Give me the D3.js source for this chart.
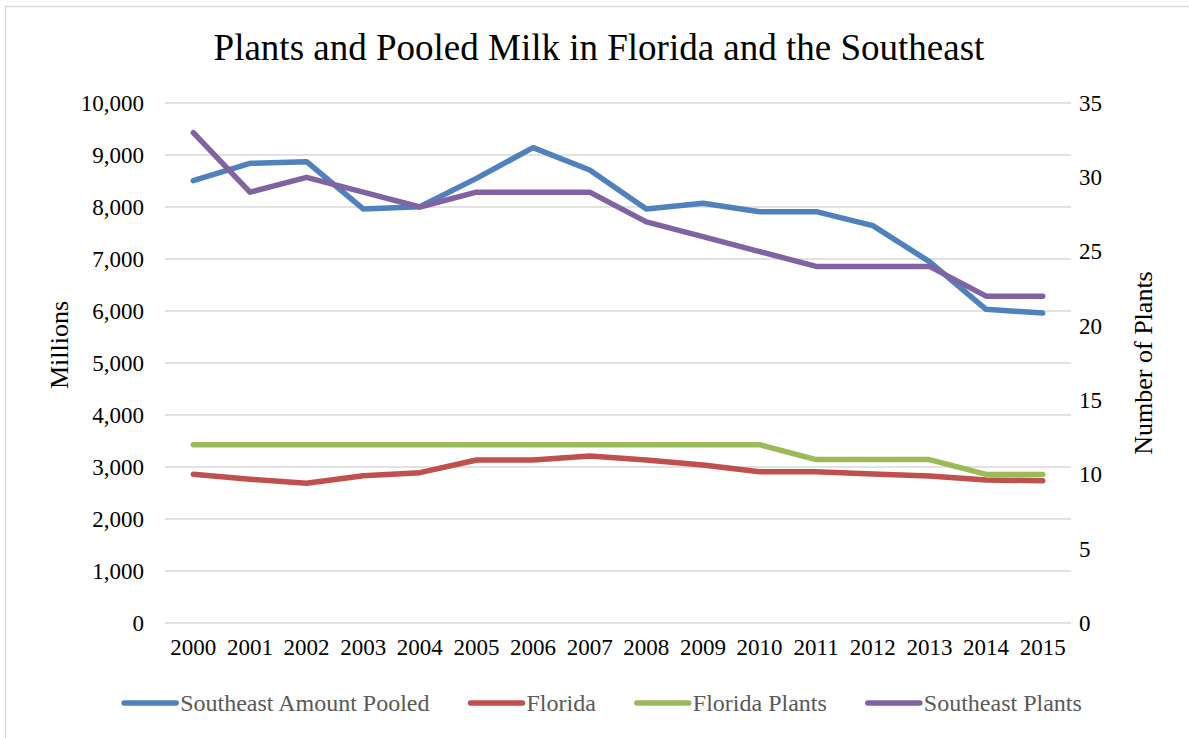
<!DOCTYPE html>
<html>
<head>
<meta charset="utf-8">
<script src="https://cdn.jsdelivr.net/npm/d3@7"></script>
<style>
  body { margin: 0; background: #fff; }
  svg { display: block; }
  svg text { font-family: "Liberation Serif", "DejaVu Serif", serif !important; }
</style>
</head>
<body>
<svg id="chart" width="1189" height="738"></svg>
<script>
const years = ["2000","2001","2002","2003","2004","2005","2006","2007","2008","2009","2010","2011","2012","2013","2014","2015"];
const southeastPooled = [8506, 8840, 8872, 7962, 8006, 8551, 9141, 8712, 7962, 8071, 7910, 7910, 7641, 6949, 6032, 5960];
const florida = [2859, 2763, 2686, 2833, 2891, 3135, 3135, 3212, 3135, 3038, 2910, 2910, 2865, 2827, 2750, 2737];
const floridaPlants = [12, 12, 12, 12, 12, 12, 12, 12, 12, 12, 12, 11, 11, 11, 10, 10];
const southeastPlants = [33, 29, 30, 29, 28, 29, 29, 29, 27, 26, 25, 24, 24, 24, 22, 22];
const leftTicks = [0, 1000, 2000, 3000, 4000, 5000, 6000, 7000, 8000, 9000, 10000];
const rightTicks = [0, 5, 10, 15, 20, 25, 30, 35];

const series = [
    {name: "Southeast Amount Pooled", values: southeastPooled, axis: "left", color: "#4F81BD"},
    {name: "Florida", values: florida, axis: "left", color: "#C0504D"},
    {name: "Florida Plants", values: floridaPlants, axis: "right", color: "#9BBB59"},
    {name: "Southeast Plants", values: southeastPlants, axis: "right", color: "#8064A2"}
];

const width = 1189, height = 738;
const margin = {top: 103, right: 118, bottom: 115, left: 165};
const svg = d3.select("#chart");

// outer chart border
svg.append("rect")
    .attr("x", 5.5).attr("y", 6.5)
    .attr("width", width).attr("height", height)
    .attr("fill", "none")
    .attr("stroke", "#d9d9d9")
    .attr("stroke-width", 1.5);

const x = d3.scaleBand()
    .domain(years)
    .range([margin.left, width - margin.right]);

const yLeft = d3.scaleLinear()
    .domain([0, 10000])
    .range([height - margin.bottom, margin.top]);

const yRight = d3.scaleLinear()
    .domain([0, 35])
    .range([height - margin.bottom, margin.top]);

// gridlines
svg.append("g")
    .selectAll("line")
    .data(leftTicks)
    .enter().append("line")
    .attr("x1", margin.left)
    .attr("x2", width - margin.right)
    .attr("y1", d => yLeft(d))
    .attr("y2", d => yLeft(d))
    .attr("stroke", "#d9d9d9")
    .attr("stroke-width", 1.5);

function styleAxis(g) {
    g.select(".domain").remove();
    g.selectAll("text")
        .attr("font-size", "23px")
        .attr("fill", "#000");
}

// left axis
svg.append("g")
    .attr("transform", `translate(${margin.left - 9},0)`)
    .call(d3.axisLeft(yLeft).tickValues(leftTicks).tickFormat(d3.format(",")).tickSize(0).tickPadding(12))
    .call(styleAxis);

// right axis
svg.append("g")
    .attr("transform", `translate(${width - margin.right + 2},0)`)
    .call(d3.axisRight(yRight).tickValues(rightTicks).tickSize(0).tickPadding(6))
    .call(styleAxis);

// x axis
svg.append("g")
    .attr("transform", `translate(0,${height - margin.bottom})`)
    .call(d3.axisBottom(x).tickSize(0).tickPadding(16))
    .call(styleAxis);

// lines
series.forEach(s => {
    const yScale = s.axis === "left" ? yLeft : yRight;
    const line = d3.line()
        .x((d, i) => x(years[i]) + x.bandwidth() / 2)
        .y(d => yScale(d));
    svg.append("path")
        .datum(s.values)
        .attr("d", line)
        .attr("fill", "none")
        .attr("stroke", s.color)
        .attr("stroke-width", 5.5)
        .attr("stroke-linejoin", "round")
        .attr("stroke-linecap", "round");
});

// title
svg.append("text")
    .attr("x", 599)
    .attr("y", 60)
    .attr("text-anchor", "middle")
    .attr("font-size", "37px")
    .attr("fill", "#000")
    .text("Plants and Pooled Milk in Florida and the Southeast");

// axis titles
svg.append("text")
    .attr("transform", `translate(68,345) rotate(-90)`)
    .attr("text-anchor", "middle")
    .attr("font-size", "26px")
    .attr("fill", "#000")
    .text("Millions");

svg.append("text")
    .attr("transform", `translate(1152,363) rotate(-90)`)
    .attr("text-anchor", "middle")
    .attr("font-size", "26px")
    .attr("fill", "#000")
    .text("Number of Plants");

// legend
const legend = svg.append("g");
let lx = 0;
const legendY = 703;
series.forEach((s, i) => {
    const item = legend.append("g").attr("transform", `translate(${lx},0)`);
    item.append("line")
        .attr("x1", 2).attr("x2", 54)
        .attr("y1", legendY).attr("y2", legendY)
        .attr("stroke", s.color)
        .attr("stroke-width", 5.5)
        .attr("stroke-linecap", "round");
    const t = item.append("text")
        .attr("x", 58)
        .attr("y", legendY + 8)
        .attr("font-size", "24px")
        .attr("fill", "#595959")
        .text(s.name);
    lx += 58 + t.node().getComputedTextLength() + 39;
});
const legendW = lx - 39;
legend.attr("transform", `translate(${602 - legendW / 2},0)`);
</script>
</body>
</html>
